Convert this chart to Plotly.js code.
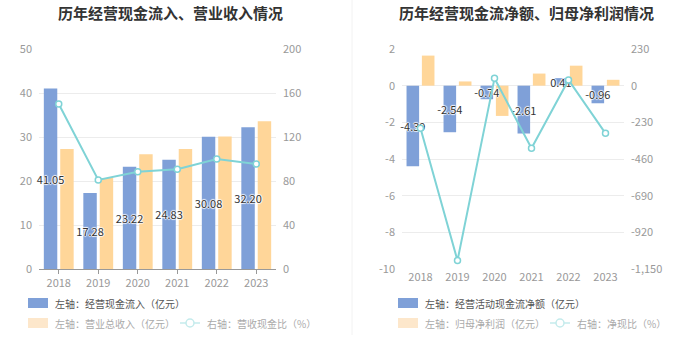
<!DOCTYPE html>
<html><head><meta charset="utf-8">
<script src="https://cdn.plot.ly/plotly-3.0.1.min.js"></script>
<style>html,body{margin:0;padding:0;background:#fff}#chart{width:700px;height:360px}</style>
</head><body><div id="chart"></div>
<script>
const years = ['2018','2019','2020','2021','2022','2023'];
const cashInflow = [41.05,17.28,23.22,24.83,30.08,32.20];
const revenue = [27.3,20.7,26.1,27.3,30.1,33.6];
const cashRevenueRatio = [150,81,88.5,90.6,100,95.5];
const netCashFlow = [-4.39,-2.54,-0.74,-2.61,0.41,-0.96];
const netProfit = [1.64,0.23,-1.65,0.66,1.09,0.32];
const netCashRatio = [-267,-1097,46,-393,36,-299];
const leftTicks = [0,10,20,30,40,50];
const leftRightTicks = [0,40,80,120,160,200];
const rightLeftTicks = [-10,-8,-6,-4,-2,0,2];
const rightRightTicks = [-1150,-920,-690,-460,-230,0,230];
const titleLeft = '历年经营现金流入、营业收入情况';
const titleRight = '历年经营现金流净额、归母净利润情况';
const legendLeft = ['左轴：经营现金流入（亿元）','左轴：营业总收入（亿元）','右轴：营收现金比（%）'];
const legendRight = ['左轴：经营活动现金流净额（亿元）','左轴：归母净利润（亿元）','右轴：净现比（%）'];

const W = 700, H = 360;
const px = x => x / W, py = y => 1 - y / H;
const BLUE = '#7fa0d8', ORANGE = '#ffd699', CYAN = '#7fd3d6';
const FONT = '"Noto Sans CJK SC", "Noto Sans", sans-serif';
const yDom = [py(269), py(49)];
const halo = '1px 0 1px #fff, -1px 0 1px #fff, 0 1px 1px #fff, 0 -1px 1px #fff';
const fmt = v => v.toFixed(2);

const labelFont = {color:'#333', size:11, family:FONT, shadow:halo};

function labelBar(xa, ya, vals) {
  return {type:'bar', x:years, y:vals, xaxis:xa, yaxis:ya, offsetgroup:'a', marker:{color:'rgba(0,0,0,0)', line:{width:0}},
    text:vals.map(fmt), textposition:'inside', insidetextanchor:'middle', textangle:0,
    textfont:labelFont, insidetextfont:labelFont, constraintext:'none', cliponaxis:false, hoverinfo:'skip', showlegend:false};
}
const lineStyle = {line:{color:CYAN, width:2}, marker:{symbol:'circle', size:6, color:'#fff', line:{color:CYAN, width:1.5}}};

const traces = [
  {type:'bar', x:years, y:cashInflow, xaxis:'x', yaxis:'y', offsetgroup:'a', marker:{color:BLUE}, hoverinfo:'skip', showlegend:false},
  {type:'bar', x:years, y:revenue, xaxis:'x', yaxis:'y', offsetgroup:'b', marker:{color:ORANGE}, hoverinfo:'skip', showlegend:false},
  labelBar('x', 'y', cashInflow),
  Object.assign({type:'scatter', mode:'lines+markers', x:years, y:cashRevenueRatio, xaxis:'x', yaxis:'y2', cliponaxis:false, showlegend:false}, lineStyle),
  {type:'bar', x:years, y:netCashFlow, xaxis:'x3', yaxis:'y3', offsetgroup:'a', marker:{color:BLUE}, hoverinfo:'skip', showlegend:false},
  {type:'bar', x:years, y:netProfit, xaxis:'x3', yaxis:'y3', offsetgroup:'b', marker:{color:ORANGE}, hoverinfo:'skip', showlegend:false},
  labelBar('x3', 'y3', netCashFlow),
  Object.assign({type:'scatter', mode:'lines+markers', x:years, y:netCashRatio, xaxis:'x3', yaxis:'y4', cliponaxis:false, showlegend:false}, lineStyle)
];

const tickFont = {color:'#999', size:11, family:FONT};
const zeroPos = yDom[0] + (0 - rightLeftTicks[0]) / (rightLeftTicks[rightLeftTicks.length-1] - rightLeftTicks[0]) * (yDom[1] - yDom[0]);

const annotations = [
  {text:titleLeft, x:px(170), y:py(13), xref:'paper', yref:'paper', xanchor:'center', yanchor:'middle', showarrow:false,
   font:{size:15, color:'#333', family:FONT, weight:'bold'}},
  {text:titleRight, x:px(526), y:py(13), xref:'paper', yref:'paper', xanchor:'center', yanchor:'middle', showarrow:false,
   font:{size:15, color:'#333', family:FONT, weight:'bold'}}
];
const shapes = [
  {type:'line', xref:'paper', yref:'paper', x0:px(352), x1:px(352), y0:py(0), y1:py(335), line:{color:'#f2f2f2', width:1}}
];
function legendRow(x, y, color, text, tcolor) {
  shapes.push({type:'rect', xref:'paper', yref:'paper', x0:px(x), x1:px(x+20), y0:py(y+5), y1:py(y-5), fillcolor:color, line:{width:0}});
  annotations.push({text:text, x:px(x+25), y:py(y), xref:'paper', yref:'paper', xanchor:'left', yanchor:'middle', showarrow:false,
   font:{size:10, color:tcolor, family:FONT}});
}
function legendLine(x, y, text) {
  shapes.push({type:'line', xref:'paper', yref:'paper', x0:px(x), x1:px(x+20), y0:py(y), y1:py(y), line:{color:'#c4ebec', width:1.5}});
  shapes.push({type:'circle', xref:'paper', yref:'paper', x0:px(x+6), x1:px(x+14), y0:py(y+4), y1:py(y-4), fillcolor:'#fff', line:{color:'#c4ebec', width:1.5}});
  annotations.push({text:text, x:px(x+25), y:py(y), xref:'paper', yref:'paper', xanchor:'left', yanchor:'middle', showarrow:false,
   font:{size:10, color:'#aaa', family:FONT}});
}
legendRow(28, 303, BLUE, legendLeft[0], '#555');
legendRow(28, 323, '#fde7cb', legendLeft[1], '#aaa');
legendLine(180, 323, legendLeft[2]);
legendRow(398, 303, BLUE, legendRight[0], '#555');
legendRow(398, 323, '#fde7cb', legendRight[1], '#aaa');
legendLine(550, 323, legendRight[2]);

const layout = {
  width:W, height:H, margin:{l:0, r:0, t:0, b:0}, paper_bgcolor:'#fff', plot_bgcolor:'rgba(0,0,0,0)',
  font:{family:FONT}, barmode:'group', bargap:0.17, bargroupgap:0.18,
  uniformtext:{mode:'show', minsize:11},
  showlegend:false,
  xaxis:{domain:[px(39), px(276)], anchor:'y', type:'category', showline:true, linecolor:'#999', linewidth:1,
    ticks:'outside', ticklen:4, tickcolor:'#999', tickfont:tickFont, showgrid:false, zeroline:false, fixedrange:true},
  yaxis:{domain:yDom, anchor:'x', range:[leftTicks[0], leftTicks[leftTicks.length-1]], tickvals:leftTicks, ticktext:leftTicks.map(String),
    gridcolor:'#ececec', showline:false, zeroline:false, tickfont:tickFont, ticks:'', ticklabelstandoff:6},
  yaxis2:{overlaying:'y', side:'right', anchor:'x', range:[leftRightTicks[0], leftRightTicks[leftRightTicks.length-1]],
    tickvals:leftRightTicks, ticktext:leftRightTicks.map(String), showgrid:false, zeroline:false, showline:false, tickfont:tickFont, ticklabelstandoff:6},
  xaxis3:{domain:[px(402), px(624)], anchor:'y3', type:'category', showline:false, ticks:'', tickfont:tickFont, showgrid:false, zeroline:false},
  xaxis4:{overlaying:'x3', matches:'x3', anchor:'free', position:zeroPos, type:'category', showline:true, linecolor:'#999', linewidth:1,
    ticks:'outside', ticklen:4, tickcolor:'#999', showticklabels:false, showgrid:false, zeroline:false},
  yaxis3:{domain:yDom, anchor:'x3', range:[rightLeftTicks[0], rightLeftTicks[rightLeftTicks.length-1]], tickvals:rightLeftTicks,
    ticktext:rightLeftTicks.map(String), gridcolor:'#ececec', showline:false, zeroline:false, tickfont:tickFont, ticklabelstandoff:6},
  yaxis4:{overlaying:'y3', side:'right', anchor:'x3', range:[rightRightTicks[0], rightRightTicks[rightRightTicks.length-1]],
    tickvals:rightRightTicks, ticktext:rightRightTicks.map(v => v.toLocaleString('en-US')), showgrid:false, zeroline:false, showline:false,
    tickfont:tickFont, ticklabelstandoff:6},
  annotations:annotations, shapes:shapes
};
Plotly.newPlot('chart', traces, layout, {staticPlot:true, displayModeBar:false});
</script>
</body></html>
